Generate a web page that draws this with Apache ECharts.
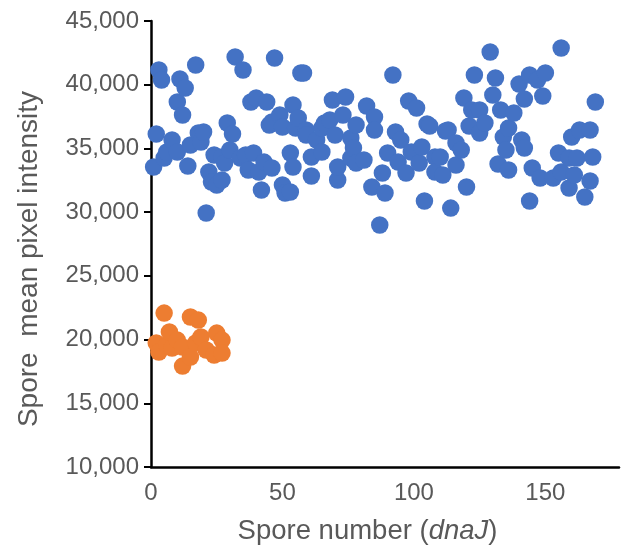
<!DOCTYPE html>
<html>
<head>
<meta charset="utf-8">
<script src="https://cdn.jsdelivr.net/npm/echarts@6/dist/echarts.min.js"></script>
<style>html,body{margin:0;padding:0;background:#fff}#c{width:622px;height:554px}</style>
</head>
<body>
<div id="c"></div>
<script>
// Blue series: spore number (x) and mean pixel intensity (y)
const blueX = [1,2,3,4,5,6,8,10,10,11,12,13,14,15,17,18,19,20,21,22,23,24,25,27,27,28,29,30,31,32,34,35,36,37,38,39,40,41,42,43,44,45,46,46,47,49,50,50,51,53,53,54,54,55,56,57,58,59,59,61,61,63,65,65,66,68,69,70,71,71,73,74,76,76,77,78,78,81,82,84,85,85,87,88,89,90,92,93,94,95,97,98,99,101,102,103,104,105,106,108,108,110,111,112,113,114,116,116,118,119,120,121,122,123,125,125,127,129,130,131,132,133,134,135,136,136,138,140,141,142,142,144,144,145,147,148,149,150,153,155,156,156,159,159,160,161,162,163,165,167,167,168,169];
const blueY = [33540,36130,41150,40370,34250,34720,35660,34720,38640,40450,37620,39740,33620,35270,41550,36210,35500,36290,29930,33150,32360,34480,32130,32520,34330,33860,37000,34880,36130,42180,34250,41150,34480,33310,38640,34640,38960,33150,31740,33930,38640,36840,37070,33460,42100,37620,36680,32130,31500,31580,34640,33540,38410,36600,37390,40920,40920,36450,36050,34330,32840,35660,34720,36600,37000,37230,38800,36050,32520,33540,37620,39040,35820,34250,35030,36840,33860,34090,38330,31970,37470,36450,28990,33070,31500,34640,40760,36290,33930,35660,33070,38720,34720,38170,33860,35110,30870,36920,36760,34330,33150,34330,32910,36370,36450,30320,33700,35430,34880,38960,31970,36760,38015,40760,38015,36210,37000,42570,39190,40530,33780,38015,35900,34880,33310,36600,37780,40060,35660,35030,38880,30870,40760,33460,40370,32680,39110,40920,32680,34640,42880,33150,31890,34250,35900,32910,34250,36450,31190,32440,36450,34330,38640];
// Orange series
const orangeX = [2,3,5,6,7,8,10,12,12,15,15,17,18,19,21,24,25,27,27];
const orangeY = [19730,19020,22080,19570,20590,19340,19960,19420,17920,18630,21770,19730,21530,20200,19180,18790,20510,19960,18940];
// Axis ticks
const yTicks = [10000,15000,20000,25000,30000,35000,40000,45000];
const xTicks = [0,50,100,150];

const pair = (xs, ys) => xs.map((x, i) => [x, ys[i]]);
const FONT = "'Liberation Sans', Arial, sans-serif";
const GRAY = '#595959';

const chart = echarts.init(document.getElementById('c'), null, {renderer: 'canvas'});
chart.setOption({
  animation: false,
  backgroundColor: '#fff',
  grid: {left: 151, right: 0, top: 21, bottom: 87},
  xAxis: {
    type: 'value', min: 0, max: 178, interval: 50,
    axisLine: {show: true, lineStyle: {color: '#000', width: 2.5}},
    axisTick: {show: false},
    splitLine: {show: false},
    axisLabel: {
      color: GRAY, fontSize: 24, fontFamily: FONT, margin: 14,
      formatter: v => xTicks.includes(v) ? String(v) : ''
    },
    name: '{n|Spore number (}{i|dnaJ}{n|)}',
    nameLocation: 'middle', nameGap: 50,
    nameTextStyle: {
      padding: [0, 35, 0, 0],
      rich: {
        n: {color: GRAY, fontSize: 27.5, fontFamily: FONT},
        i: {color: GRAY, fontSize: 27.5, fontFamily: FONT, fontStyle: 'italic'}
      }
    }
  },
  yAxis: {
    type: 'value', min: 10000, max: 45000, interval: 5000,
    axisLine: {show: true, lineStyle: {color: '#000', width: 2.5}},
    axisTick: {show: true, inside: false, length: 7, lineStyle: {color: '#000', width: 2}},
    splitLine: {show: false},
    axisLabel: {
      color: GRAY, fontSize: 24, fontFamily: FONT, margin: 12,
      formatter: v => yTicks.includes(v) ? v.toLocaleString('en-US') : ''
    },
    name: 'Spore  mean pixel intensity',
    nameLocation: 'middle', nameGap: 108,
    nameTextStyle: {color: GRAY, fontSize: 28, fontFamily: FONT, padding: [0, 30, 0, 0]}
  },
  series: [
    {type: 'scatter', data: pair(blueX, blueY), symbol: 'circle', symbolSize: 17.5,
     itemStyle: {color: '#4472C4', opacity: 1}},
    {type: 'scatter', data: pair(orangeX, orangeY), symbol: 'circle', symbolSize: 17.5,
     itemStyle: {color: '#ED7D31', opacity: 1}}
  ]
});
</script>
</body>
</html>
